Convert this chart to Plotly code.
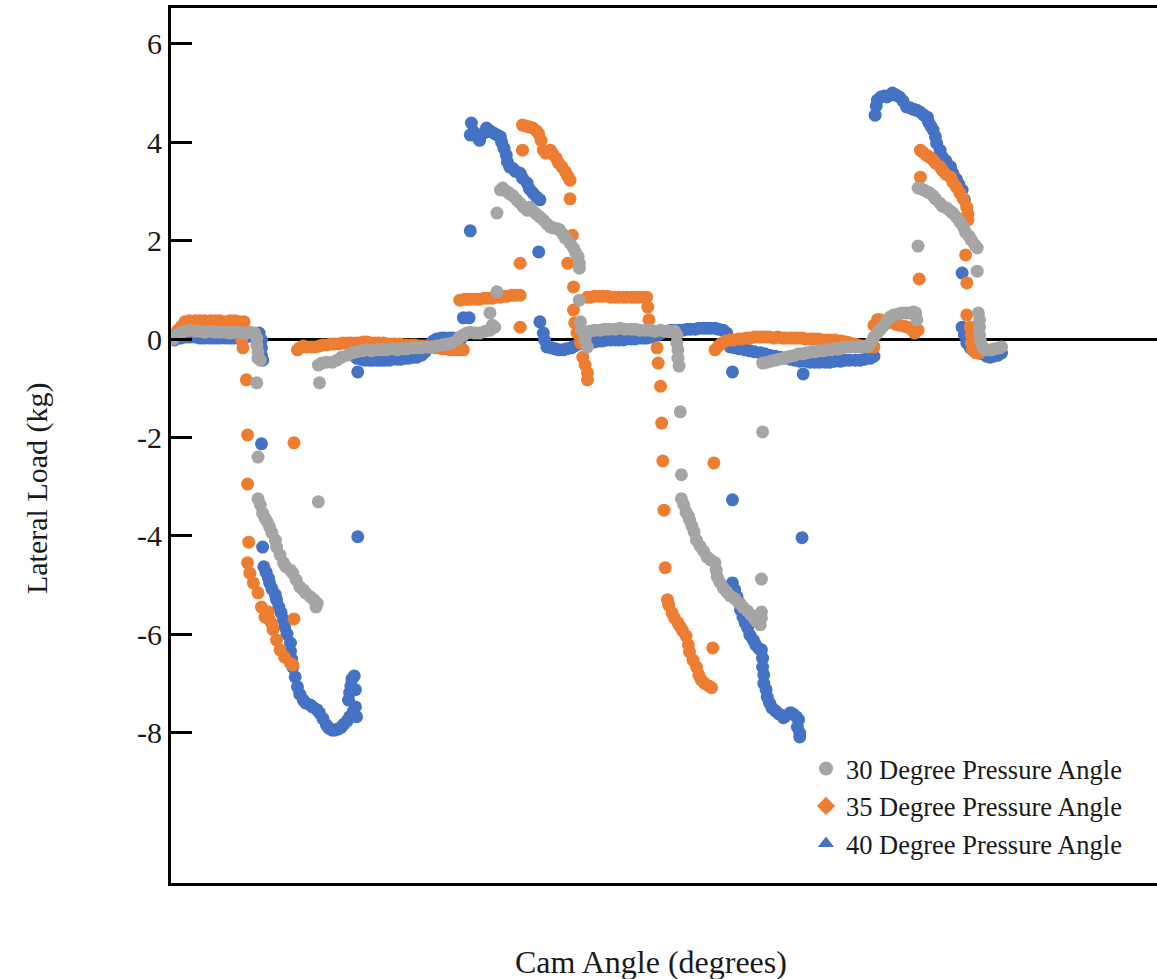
import plotly.graph_objects as go

# ---------------- data ----------------
series_names = ["30 Degree Pressure Angle", "35 Degree Pressure Angle", "40 Degree Pressure Angle"]
series_colors = ["#A5A5A5", "#ED7D31", "#4472C4"]
legend_symbols = ["circle", "diamond", "triangle-up"]

y_tick_vals = [-8, -6, -4, -2, 0, 2, 4, 6]
y_tick_text = ["-8", "-6", "-4", "-2", "0", "2", "4", "6"]

angle_30 = [
    2, 4, 8, 12, 16, 21, 25, 29, 34, 38, 42, 47, 51, 55, 59, 64, 68, 72, 74, 74, 75, 75, 77,
    74, 75,
    75, 77, 79, 81, 83, 85, 87, 90, 91, 94, 97, 99, 103, 105, 108, 111, 114, 116, 120, 123, 126, 125,
    127, 128,
    127, 130, 134, 139, 143, 147, 152, 156, 160, 165, 169, 173, 178, 182, 186, 191, 195, 199, 203, 208,
    212, 216, 221, 225, 229, 234, 238, 242, 247, 249, 252, 255, 258, 262, 266, 271, 275, 277, 279,
    275, 281,
    281, 284, 286, 290, 292, 295, 298, 301, 304, 307, 309, 312, 315, 318, 321, 324, 327, 329, 333, 335,
    338, 340, 344, 347, 349, 351, 352, 352, 352, 353, 354, 357, 359,
    361, 365, 370, 374, 378, 383, 387, 391, 396, 400, 404, 409, 413, 417, 422, 426, 430, 434, 436, 436,
    437, 437, 438,
    439, 440,
    440, 442, 444, 446, 447, 449, 451, 453, 456, 459, 462, 465, 469, 470, 471, 473, 476, 479, 482, 486,
    490, 493, 497, 500, 503, 505, 508, 509, 509,
    509, 510,
    510, 514, 517, 521, 524, 528, 531, 534, 538, 541, 545, 548, 552, 555, 559, 562, 565, 569, 572, 576,
    579, 583, 586, 590, 593, 596, 600, 603, 606, 609, 611, 614, 617, 620, 623, 627, 630, 634, 637, 640,
    642, 643,
    644,
    644, 647, 649, 652, 654, 657, 659, 663, 665, 669, 672, 674, 677, 680, 683, 685, 688, 690, 693, 695,
    695,
    696, 697, 697, 697, 698, 700, 703, 707, 710, 714, 716,
]
load_30 = [
    0.00, 0.06, 0.12, 0.16, 0.18, 0.16, 0.16, 0.14, 0.16, 0.14, 0.14, 0.14, 0.12, 0.14, 0.14, 0.12, 0.14,
    0.12, 0.02, -0.12, -0.26, -0.39, -0.43,
    -0.89, -2.40,
    -3.25, -3.37, -3.54, -3.64, -3.72, -3.82, -3.94, -4.09, -4.23, -4.39, -4.55, -4.63, -4.70, -4.76,
    -4.90, -5.04, -5.10, -5.16, -5.24, -5.30, -5.37, -5.45,
    -3.31, -0.89,
    -0.53, -0.49, -0.47, -0.47, -0.43, -0.37, -0.33, -0.28, -0.26, -0.24, -0.22, -0.24, -0.22, -0.22,
    -0.22, -0.20, -0.22, -0.20, -0.20, -0.18, -0.18, -0.18, -0.16, -0.16, -0.14, -0.12, -0.10, -0.08,
    -0.02, 0.04, 0.08, 0.12, 0.14, 0.12, 0.12, 0.16, 0.18, 0.28, 0.24,
    0.53, 0.96,
    2.56, 3.03, 3.07, 2.99, 2.95, 2.91, 2.83, 2.76, 2.68, 2.62, 2.68, 2.60, 2.54, 2.48, 2.42, 2.34, 2.28,
    2.26, 2.24, 2.22, 2.13, 2.05, 1.95, 1.85, 1.75, 1.67, 1.54, 1.44, 0.79, 0.35, 0.18, -0.02, -0.16,
    0.16, 0.18, 0.18, 0.20, 0.20, 0.20, 0.22, 0.20, 0.20, 0.20, 0.18, 0.18, 0.18, 0.16, 0.18, 0.16, 0.16,
    0.16, 0.08, -0.08, -0.22, -0.39, -0.55,
    -1.48, -2.76,
    -3.25, -3.37, -3.52, -3.60, -3.68, -3.80, -3.92, -4.09, -4.21, -4.31, -4.43, -4.49, -4.55, -4.70,
    -4.84, -4.94, -5.06, -5.14, -5.22, -5.28, -5.37, -5.45, -5.53, -5.61, -5.69, -5.75, -5.81, -5.67,
    -5.55,
    -4.88, -1.89,
    -0.49, -0.47, -0.45, -0.43, -0.41, -0.39, -0.37, -0.35, -0.33, -0.30, -0.30, -0.28, -0.26, -0.26,
    -0.24, -0.24, -0.22, -0.22, -0.20, -0.20, -0.18, -0.16, -0.16, -0.16, -0.16, -0.16, -0.16, -0.08,
    0.04, 0.12, 0.18, 0.26, 0.37, 0.45, 0.49, 0.51, 0.53, 0.53, 0.53, 0.55, 0.53, 0.39,
    1.89,
    3.07, 3.05, 3.03, 2.99, 2.97, 2.91, 2.85, 2.76, 2.70, 2.66, 2.60, 2.56, 2.48, 2.38, 2.28, 2.17, 2.09,
    2.01, 1.91, 1.85,
    1.38,
    0.53, 0.39, 0.24, 0.08, -0.06, -0.18, -0.22, -0.22, -0.20, -0.18, -0.16,
]

angle_35 = [
    3, 6, 9, 12, 16, 21, 25, 29, 34, 38, 42, 47, 51, 55, 59, 63, 62, 61, 62,
    65, 66, 66, 67,
    66, 68, 71, 75, 78, 81, 84, 85, 87, 88, 91, 94, 98, 103, 105,
    106, 106,
    109, 111, 114, 117, 121, 124, 128, 131, 134, 138, 141, 145, 148, 152, 155, 159, 162, 166, 169, 172,
    176, 179, 183, 186, 190, 193, 197, 200, 203, 207, 210, 214, 217, 221, 224, 228, 231, 234, 238, 241,
    245, 248, 252,
    249, 253, 256, 259, 263, 266, 270, 273, 277, 280, 284, 287, 290, 294, 297, 301,
    301, 301, 303,
    303, 306, 309, 312, 315, 317, 319, 321, 323, 327, 329, 332, 334, 337, 340, 342, 344,
    344, 346, 342, 347, 347,
    348, 350, 353, 355, 357, 359, 359,
    359, 362, 365, 369, 372, 376, 379, 383, 386, 390, 393, 397, 400, 403, 407, 410, 411, 412,
    419, 420, 422, 423, 424, 425, 426,
    428, 429, 432, 434, 437, 439, 441, 444, 446, 447, 450, 453, 455, 457, 460, 464, 466,
    467, 468,
    469, 472, 475, 478, 482, 485, 489, 492, 496, 499, 503, 506, 509, 513, 516, 520, 523, 527, 530, 534,
    537, 540, 544, 547, 551, 554, 558, 561, 565, 568, 572, 575, 578, 582, 585, 589, 592, 596, 599, 603,
    606,
    606, 609, 611, 615, 618, 622, 625, 628, 632, 635, 639, 641, 644,
    645, 646,
    646, 648, 651, 654, 657, 659, 663, 665, 668, 672, 674, 677, 680, 683, 686, 687, 687,
    685, 686, 686,
    689, 690, 690, 691, 694, 697,
]
load_35 = [
    0.08, 0.18, 0.26, 0.35, 0.37, 0.37, 0.37, 0.37, 0.37, 0.37, 0.37, 0.35, 0.37, 0.37, 0.35, 0.35, 0.18,
    -0.02, -0.18,
    -0.83, -1.95, -2.95, -4.13,
    -4.55, -4.76, -4.96, -5.16, -5.45, -5.65, -5.55, -5.71, -5.79, -5.91, -6.12, -6.32, -6.47, -6.59,
    -6.63,
    -5.69, -2.11,
    -0.22, -0.18, -0.14, -0.16, -0.16, -0.16, -0.14, -0.12, -0.12, -0.10, -0.10, -0.10, -0.08, -0.08,
    -0.08, -0.08, -0.08, -0.06, -0.06, -0.08, -0.08, -0.08, -0.08, -0.10, -0.10, -0.10, -0.10, -0.12,
    -0.12, -0.12, -0.12, -0.14, -0.14, -0.16, -0.16, -0.18, -0.18, -0.20, -0.20, -0.22, -0.22, -0.22,
    -0.22,
    0.79, 0.81, 0.81, 0.81, 0.81, 0.81, 0.83, 0.83, 0.83, 0.85, 0.85, 0.87, 0.87, 0.89, 0.89, 0.89,
    0.24, 1.54, 3.84,
    4.35, 4.33, 4.31, 4.29, 4.23, 4.17, 4.04, 3.84, 3.78, 3.84, 3.76, 3.68, 3.58, 3.50, 3.40, 3.31, 3.23,
    2.85, 2.11, 1.54, 1.06, 0.59,
    0.33, 0.12, -0.08, -0.37, -0.53, -0.69, -0.83,
    0.85, 0.85, 0.87, 0.87, 0.87, 0.87, 0.85, 0.85, 0.85, 0.85, 0.85, 0.85, 0.85, 0.85, 0.85, 0.85, 0.65,
    0.39,
    -0.18, -0.49, -0.96, -1.71, -2.48, -3.48, -4.65,
    -5.30, -5.41, -5.57, -5.67, -5.77, -5.85, -5.93, -6.04, -6.22, -6.36, -6.53, -6.67, -6.83, -6.93,
    -7.00, -7.06, -7.09,
    -6.28, -2.52,
    -0.22, -0.14, -0.08, -0.04, -0.02, -0.02, 0.00, 0.00, 0.02, 0.02, 0.04, 0.04, 0.04, 0.04, 0.04, 0.02,
    0.04, 0.02, 0.02, 0.02, 0.02, 0.02, 0.02, 0.00, 0.00, 0.00, 0.00, -0.02, -0.02, -0.02, -0.02, -0.04,
    -0.04, -0.06, -0.08, -0.10, -0.12, -0.14, -0.14, -0.16, -0.16,
    0.28, 0.39, 0.39, 0.37, 0.35, 0.33, 0.30, 0.28, 0.26, 0.24, 0.18, 0.12, 0.18,
    1.22, 3.29,
    3.84, 3.80, 3.74, 3.70, 3.64, 3.58, 3.50, 3.43, 3.35, 3.29, 3.19, 3.09, 2.97, 2.85, 2.68, 2.54, 2.42,
    1.71, 1.14, 0.49,
    0.24, 0.08, -0.08, -0.22, -0.28, -0.28,
]

angle_40 = [
    3, 8, 12, 16, 21, 25, 29, 34, 38, 42, 47, 51, 55, 59, 64, 68, 72, 76, 78, 78, 78, 79,
    78, 79,
    80, 82, 84, 85, 87, 90, 91, 93, 95, 97, 98, 100, 103, 103, 104, 105, 107, 109, 111, 114, 116, 120,
    122, 126, 128, 131, 134, 136, 139, 141, 144, 147, 149, 152, 154, 157, 159, 160, 153, 154, 155, 156,
    158, 159,
    161, 161,
    160, 164, 167, 171, 174, 178, 181, 184, 188, 191, 195, 198, 202, 205, 209, 212, 216, 219, 222, 226,
    229, 233, 236, 240, 243, 247, 250,
    252, 257, 258,
    259, 258, 261, 264, 266, 270, 272, 275, 278, 281, 284, 285, 287, 289, 290, 292, 295, 297, 301, 303,
    307, 309, 312, 315, 318,
    317, 318,
    321, 322, 324, 328, 331, 334, 338, 341, 345, 348, 352, 355, 359, 362, 365, 369, 372, 376, 379, 383,
    386, 390, 393, 397, 400, 403, 407, 410, 414, 417, 421, 424, 428, 431, 434, 438, 441, 445, 448, 452,
    455, 459, 462, 465, 469, 472, 476, 479, 482,
    484, 484,
    484, 486, 488, 490, 491, 493, 495, 497, 499, 502, 504, 507, 509, 510, 510, 511, 511, 513, 514, 516,
    518, 521, 524, 528, 530, 534, 536, 539, 541, 540, 542, 542,
    544, 545,
    486, 490, 495, 499, 503, 508, 512, 516, 521, 525, 529, 534, 538, 542, 547, 551, 555, 559, 564, 568,
    572, 577, 581, 585, 590, 594, 598, 603, 606,
    607, 608, 609, 612, 615, 617, 620, 622, 625, 628, 631, 634, 637, 640, 643, 646, 649, 652, 653, 655,
    657, 659, 660, 663, 665, 668, 672, 674, 677, 679, 682, 684,
    682,
    682, 684, 686, 689, 692, 696, 699, 703, 706, 709, 713, 716,
]
load_40 = [
    -0.02, 0.02, 0.04, 0.04, 0.04, 0.02, 0.02, 0.02, 0.02, 0.02, 0.02, 0.02, 0.02, 0.02, 0.04, 0.06, 0.08,
    0.12, -0.02, -0.18, -0.33, -0.43,
    -2.13, -4.23,
    -4.63, -4.74, -4.86, -4.96, -5.08, -5.20, -5.30, -5.45, -5.57, -5.71, -5.85, -6.00, -6.18, -6.35,
    -6.51, -6.67, -6.87, -7.07, -7.22, -7.34, -7.40, -7.44, -7.48, -7.54, -7.60, -7.72, -7.85, -7.91,
    -7.95, -7.95, -7.93, -7.89, -7.83, -7.76, -7.68, -7.58, -7.48, -7.68, -7.34, -7.19, -7.05, -6.91,
    -6.85, -7.13,
    -4.02, -0.67,
    -0.39, -0.41, -0.43, -0.43, -0.43, -0.43, -0.43, -0.43, -0.43, -0.41, -0.41, -0.41, -0.39, -0.39,
    -0.37, -0.37, -0.33, -0.26, -0.12, -0.04, 0.00, 0.02, 0.02, 0.02, 0.02, 0.00, 0.00,
    0.43, 0.43, 2.20,
    4.39, 4.15, 4.21, 4.11, 4.04, 4.19, 4.29, 4.23, 4.19, 4.15, 4.11, 4.00, 3.88, 3.74, 3.60, 3.50, 3.46,
    3.41, 3.37, 3.27, 3.17, 3.05, 2.97, 2.89, 2.83,
    1.77, 0.35,
    0.12, -0.02, -0.16, -0.18, -0.20, -0.22, -0.22, -0.20, -0.18, -0.14, -0.10, -0.08, -0.08, -0.06,
    -0.06, -0.04, -0.04, -0.02, -0.02, -0.02, -0.02, -0.02, 0.00, 0.00, 0.00, 0.02, 0.02, 0.02, 0.04,
    0.06, 0.10, 0.14, 0.16, 0.18, 0.18, 0.18, 0.18, 0.20, 0.20, 0.20, 0.22, 0.22, 0.22, 0.22, 0.22, 0.20,
    0.18, 0.12, -0.16,
    -0.67, -3.27,
    -4.96, -5.10, -5.24, -5.37, -5.51, -5.65, -5.77, -5.87, -6.02, -6.12, -6.22, -6.30, -6.32, -6.49,
    -6.67, -6.83, -7.00, -7.13, -7.28, -7.40, -7.50, -7.56, -7.62, -7.70, -7.66, -7.60, -7.62, -7.68,
    -7.74, -7.89, -8.01, -8.09,
    -4.04, -0.71,
    -0.18, -0.20, -0.22, -0.24, -0.26, -0.28, -0.30, -0.33, -0.35, -0.37, -0.39, -0.41, -0.43, -0.45,
    -0.45, -0.47, -0.47, -0.47, -0.47, -0.47, -0.45, -0.45, -0.43, -0.43, -0.43, -0.43, -0.41, -0.39,
    -0.35,
    4.55, 4.74, 4.86, 4.92, 4.94, 4.92, 4.96, 5.00, 4.96, 4.92, 4.84, 4.72, 4.70, 4.67, 4.65, 4.61, 4.55,
    4.51, 4.41, 4.33, 4.25, 4.11, 3.98, 3.84, 3.70, 3.62, 3.50, 3.37, 3.25, 3.15, 3.03, 2.83,
    1.34,
    0.24, 0.08, -0.08, -0.18, -0.24, -0.28, -0.30, -0.35, -0.37, -0.35, -0.33, -0.28,
]

assert len(angle_30) == len(load_30)
assert len(angle_35) == len(load_35)
assert len(angle_40) == len(load_40)

FONT = "Liberation Serif, Times New Roman, serif"

fig = go.Figure()

# legend-only entries (legend symbols differ from plotted marks in the reference)
for name, color, sym in zip(series_names, series_colors, legend_symbols):
    fig.add_trace(go.Scatter(
        x=[None], y=[None], mode="markers", name=name, legendgroup=name,
        marker=dict(symbol=sym, size=14, color=color, line=dict(width=0)),
    ))

# plotted data: 40 first (bottom), then 35, then 30 on top
data_sets = [(angle_40, load_40, 2), (angle_35, load_35, 1), (angle_30, load_30, 0)]
for xs, ys, idx in data_sets:
    fig.add_trace(go.Scatter(
        x=xs, y=ys, mode="markers", name=series_names[idx], legendgroup=series_names[idx],
        showlegend=False, hoverinfo="x+y",
        marker=dict(symbol="circle", size=13, color=series_colors[idx], line=dict(width=0)),
    ))

fig.update_layout(
    width=1157, height=979, autosize=False,
    margin=dict(l=171, r=0, t=8, b=96, pad=0),
    paper_bgcolor="white", plot_bgcolor="white",
    font=dict(family=FONT, color="#1a1a1a"),
    showlegend=True,
    legend=dict(
        x=0.644, y=0.158, xanchor="left", yanchor="top",
        bgcolor="rgba(0,0,0,0)", borderwidth=0,
        font=dict(family=FONT, size=26.5, color="#1a1a1a"),
        tracegroupgap=0, itemsizing="trace",
    ),
    xaxis=dict(
        range=[0, 850], showticklabels=False, ticks="", showgrid=False, zeroline=False,
        showline=True, linecolor="black", linewidth=3, mirror=True,
    ),
    yaxis=dict(
        range=[-11.06, 6.73], tickmode="array", tickvals=y_tick_vals, ticktext=y_tick_text,
        ticks="inside", ticklen=21, tickwidth=3, tickcolor="black",
        tickfont=dict(family=FONT, size=30, color="#1a1a1a"),
        showgrid=False, zeroline=True, zerolinecolor="black", zerolinewidth=2.5,
        showline=True, linecolor="black", linewidth=3, mirror=False,
    ),
    annotations=[
        dict(text="Cam Angle (degrees)", xref="paper", yref="paper", x=0.4868, y=0,
             xanchor="center", yanchor="middle", yshift=-79, showarrow=False,
             font=dict(family=FONT, size=32, color="#1a1a1a")),
        dict(text="Lateral Load (kg)", xref="paper", yref="paper", x=0, y=0.4514,
             xanchor="center", yanchor="middle", xshift=-134, textangle=-90, showarrow=False,
             font=dict(family=FONT, size=30, color="#1a1a1a")),
    ],
)

fig.write_html("out.html")
